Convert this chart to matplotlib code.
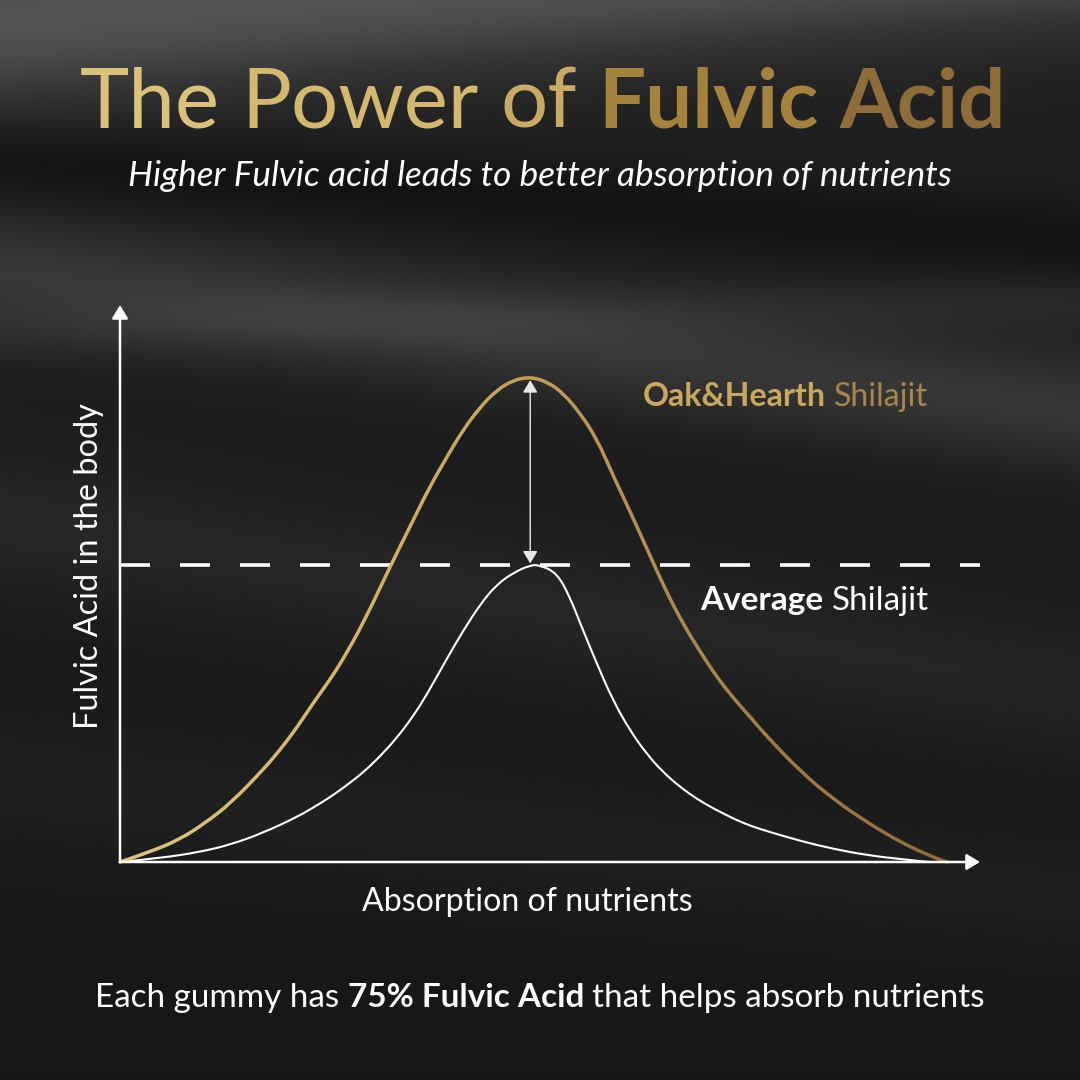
import numpy as np
import matplotlib
matplotlib.use("Agg")
import matplotlib.pyplot as plt
from matplotlib.colors import LinearSegmentedColormap
from matplotlib.patches import FancyArrowPatch, PathPatch
from matplotlib.path import Path
from matplotlib.transforms import Bbox, TransformedBbox

# --- values (x: absorption 0-100, y: fulvic acid 0-100)
GOLD_X = [0.0, 3.5, 7.0, 9.9, 12.9, 16.6, 18.6, 20.6, 22.4, 24.4, 25.9, 28.3,
          31.4, 34.1, 36.0, 38.0, 39.9, 41.9, 43.8, 45.7, 47.7, 49.7, 51.5,
          53.5, 55.5, 57.3, 59.5, 61.6, 63.6, 65.5, 67.4, 69.4, 71.5, 73.3,
          75.3, 79.3, 83.1, 87.0, 90.9, 94.8, 96.2]
GOLD_Y = [0.0, 1.8, 4.1, 7.0, 10.6, 16.5, 20.1, 24.2, 28.4, 32.7, 36.3, 42.9,
          53.0, 61.4, 67.3, 72.7, 77.6, 81.7, 84.7, 86.5, 87.1, 86.2, 84.2,
          80.6, 75.8, 69.5, 62.3, 55.1, 48.3, 42.7, 37.9, 33.2, 29.1, 26.0,
          22.4, 16.0, 11.1, 7.0, 3.4, 0.7, 0.0]
AVG_X = [0.0, 4.7, 9.3, 12.8, 16.6, 20.6, 22.5, 24.4, 26.3, 28.3, 30.2, 32.2,
         34.1, 35.7, 38.0, 39.9, 41.9, 43.8, 45.7, 47.7, 48.8, 50.8, 52.3,
         53.5, 55.5, 57.3, 59.3, 61.3, 63.1, 65.1, 67.1, 69.0, 71.7, 73.5,
         75.3, 79.3, 83.1, 87.0, 90.9, 94.0]
AVG_Y = [0.0, 0.7, 1.8, 3.1, 5.2, 8.1, 9.8, 11.6, 13.7, 16.1, 18.9, 22.3,
         26.2, 30.1, 36.5, 41.5, 46.3, 49.8, 51.9, 53.3, 53.3, 51.9, 47.6,
         42.9, 35.4, 29.1, 23.6, 19.3, 16.2, 13.5, 11.3, 9.6, 7.5, 6.4, 5.5,
         3.7, 2.3, 1.2, 0.5, 0.0]

TITLE = [("The", "normal", "#DAC27D"), ("Power", "normal", "#D3B86F"),
         ("of", "normal", "#C9AA64"), ("Fulvic", "bold", "#A6823F"),
         ("Acid", "bold", "#8F6D3A")]
SUBTITLE = "Higher Fulvic acid leads to better absorption of nutrients"
OAK_LABEL = [("Oak&Hearth", "bold", "#C9A85E"), ("Shilajit", "normal", "#A8874B")]
AVG_LABEL = [("Average", "bold", "white"), ("Shilajit", "normal", "white")]
XLABEL = "Absorption of nutrients"
YLABEL = "Fulvic Acid in the body"
FOOTER = [("Each gummy has", "normal", "white"),
          ("75% Fulvic Acid", "bold", "white"),
          ("that helps absorb nutrients", "normal", "white")]

FONT = "Lato"
W = 1080

plt.rcParams["lines.scale_dashes"] = False


def background():
    yy, xx = np.mgrid[0:W:2, 0:W:2].astype(float)

    def band(y0, y1, width, amp):
        d = yy - (y0 + (y1 - y0) * xx / W)
        return amp * np.exp(-(d / width) ** 2)

    g = 0.13 - 0.04 * yy / W
    g = g + band(20, -60, 80, 0.20)
    g = g + band(270, 410, 55, 0.10)
    g = g + band(160, 240, 40, -0.05)
    g = g + band(330, 300, 30, 0.04)
    g = g + band(520, 690, 70, 0.04)
    g = g + band(780, 900, 60, 0.025)
    g = np.clip(g, 0, 1)
    return np.dstack([g, g, g])


def smooth_path(xs, ys):
    """Quadratic-Bezier path using the read points as control points."""
    verts = [(xs[0], ys[0])]
    codes = [Path.MOVETO]
    for i in range(1, len(xs) - 1):
        verts += [(xs[i], ys[i]),
                  ((xs[i] + xs[i + 1]) / 2, (ys[i] + ys[i + 1]) / 2)]
        codes += [Path.CURVE3, Path.CURVE3]
    verts.append((xs[-1], ys[-1]))
    codes.append(Path.LINETO)
    return Path(verts, codes)


def draw_runs(ax, runs, left, base, width, style="normal", size0=40):
    """Place text runs side by side so that together they span `width` px."""
    r = ax.figure.canvas.get_renderer()

    def measure(s, size, weight):
        t = ax.text(0, 0, s, fontsize=size, family=FONT, weight=weight,
                    style=style)
        w = t.get_window_extent(r).width
        t.remove()
        return w

    def widths(size):
        ws = [measure(s, size, wt) for s, wt, _ in runs]
        gap = measure("n n", size, "normal") - measure("nn", size, "normal")
        return ws, gap, sum(ws) + gap * (len(runs) - 1)

    _, _, tot = widths(size0)
    size = size0 * width / tot
    ws, gap, _ = widths(size)
    x = left
    for (s, wt, col), w in zip(runs, ws):
        ax.text(x, base, s, fontsize=size, family=FONT, weight=wt, style=style,
                color=col, ha="left", va="baseline")
        x += w + gap


fig = plt.figure(figsize=(10.8, 10.8), dpi=100)

# full-figure axes in pixel units for background and text
over = fig.add_axes([0, 0, 1, 1])
over.imshow(background(), extent=[0, W, W, 0], interpolation="bilinear",
            aspect="auto", zorder=0)
over.set_xlim(0, W)
over.set_ylim(W, 0)
over.axis("off")

draw_runs(over, TITLE, 80, 127, 925)
draw_runs(over, [(SUBTITLE, "normal", "white")], 128, 186, 822, style="italic")
draw_runs(over, OAK_LABEL, 643, 406, 285)
draw_runs(over, AVG_LABEL, 700, 610, 228)
draw_runs(over, [(XLABEL, "normal", "white")], 362, 911, 330)
draw_runs(over, FOOTER, 95, 1007, 890)

# rotated y label, scaled to its length in the reference
r = fig.canvas.get_renderer()
t = over.text(0, 0, YLABEL, fontsize=30, family=FONT, rotation=90)
ylen = t.get_window_extent(r).height
t.remove()
over.text(89, 566, YLABEL, fontsize=30 * 325 / ylen, family=FONT, rotation=90,
          color="white", ha="center", va="center")

# --- the chart itself
ax = fig.add_axes([120 / W, (W - 862) / W, 860 / W, 557 / W])
ax.set_xlim(0, 100)
ax.set_ylim(0, 100)
ax.patch.set_alpha(0)
ax.axis("off")

gx, gy = np.array(GOLD_X), np.array(GOLD_Y)
wx, wy = np.array(AVG_X), np.array(AVG_Y)
ipk = int(np.argmax(gy))
avg_peak = wy.max()

# dashed reference line at the average peak
ax.plot([0, 100], [avg_peak, avg_peak], color="white", lw=2.6,
        dashes=(21.6, 21.6), solid_capstyle="butt", zorder=2, clip_on=False)

# average curve
ax.add_patch(PathPatch(smooth_path(wx, wy), fill=False, edgecolor="white",
                       lw=1.5, zorder=3, clip_on=False))

# gold curve, coloured left to right in thin vertical strips
gold_cmap = LinearSegmentedColormap.from_list(
    "gold", ["#DCC37C", "#D4B66C", "#C09C58", "#A27E45", "#8A6838"])
gold_path = smooth_path(gx, gy)
edges = np.linspace(-2, 100, 52)
for x0, x1 in zip(edges[:-1], edges[1:]):
    p = PathPatch(gold_path, fill=False, lw=2.5, zorder=4,
                  edgecolor=gold_cmap(np.clip((x0 + x1) / 200, 0, 1)),
                  capstyle="round")
    ax.add_patch(p)
    p.set_clip_box(TransformedBbox(Bbox([[x0, -10], [x1, 110]]), ax.transData))

# double-headed arrow between the two peaks
ax.add_patch(FancyArrowPatch((gx[ipk], avg_peak + 0.3), (gx[ipk], gy[ipk] - 0.6),
                             arrowstyle="<|-|>,head_length=0.75,head_width=0.45",
                             mutation_scale=10, color="#e8e8e8", lw=1.0,
                             shrinkA=0, shrinkB=0, zorder=5))

# axes with arrow heads
for end in [(100, 0), (0, 100)]:
    ax.add_patch(FancyArrowPatch((0, 0), end,
                                 arrowstyle="-|>,head_length=0.8,head_width=0.48",
                                 mutation_scale=10, color="white", lw=1.8,
                                 shrinkA=0, shrinkB=0, zorder=6,
                                 clip_on=False))

fig.savefig("out.png", dpi=100)
